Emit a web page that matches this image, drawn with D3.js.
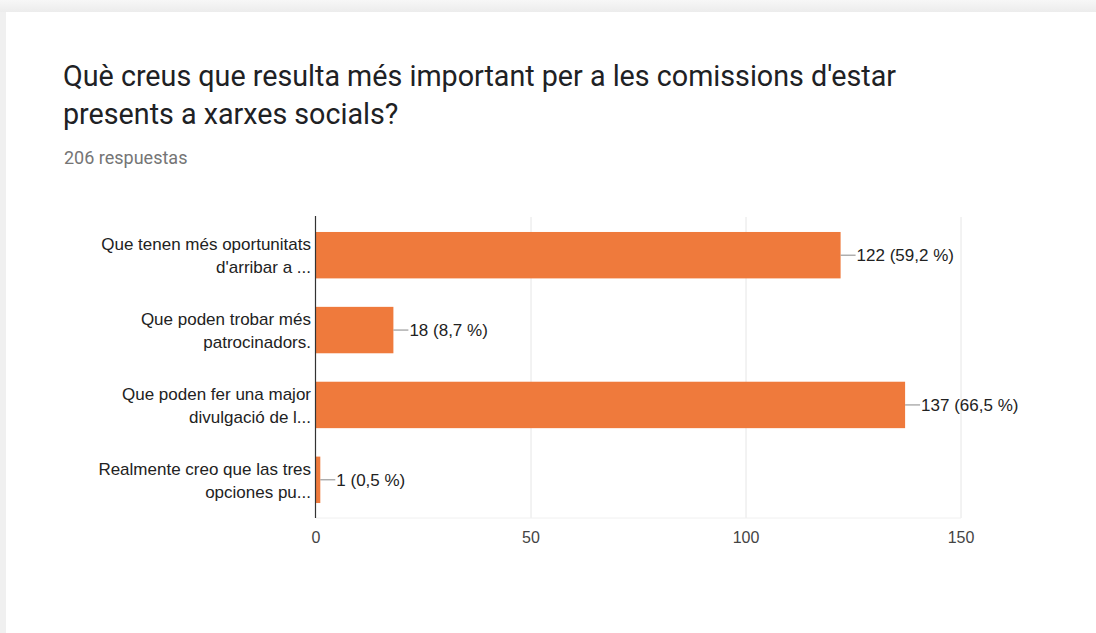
<!DOCTYPE html>
<html>
<head>
<meta charset="utf-8">
<script src="https://cdn.jsdelivr.net/npm/d3@7"></script>
<style>
  html, body { margin: 0; padding: 0; background: #f1f1f1; }
  svg { display: block; }
</style>
</head>
<body>
<svg id="chart" width="1096" height="633"></svg>
<script>
// Answer options (each drawn as two lines) and response counts
const categoryLines = [
  ["Que tenen més oportunitats", "d'arribar a ..."],
  ["Que poden trobar més", "patrocinadors."],
  ["Que poden fer una major", "divulgació de l..."],
  ["Realmente creo que las tres", "opciones pu..."]
];
const counts = [122, 18, 137, 1];
const percents = ["59,2", "8,7", "66,5", "0,5"];
const xTicks = [0, 50, 100, 150];
const totalResponses = 206;

const svg = d3.select("#chart");
const W = 1096, H = 633;

// top shadow band and card
const defs = svg.append("defs");
const grad = defs.append("linearGradient").attr("id", "topShade").attr("x1", 0).attr("x2", 0).attr("y1", 0).attr("y2", 1);
grad.append("stop").attr("offset", "0%").attr("stop-color", "#f7f7f7");
grad.append("stop").attr("offset", "100%").attr("stop-color", "#ececec");
svg.append("rect").attr("x", 0).attr("y", 0).attr("width", W).attr("height", 12).attr("fill", "url(#topShade)");
svg.append("rect").attr("x", 0).attr("y", 12).attr("width", 6).attr("height", H - 12).attr("fill", "#f0f0f0");
svg.append("rect").attr("x", 6).attr("y", 12).attr("width", W - 6).attr("height", H - 12).attr("fill", "#ffffff");

// Title and response count
const title = svg.append("text")
  .attr("font-family", "Roboto, Arial, sans-serif")
  .attr("font-size", 28.7)
  .attr("fill", "#202124");
title.append("tspan").attr("x", 63).attr("y", 86).text("Què creus que resulta més important per a les comissions d'estar");
title.append("tspan").attr("x", 63).attr("y", 124).text("presents a xarxes socials?");

svg.append("text")
  .attr("x", 64).attr("y", 164)
  .attr("font-family", "Roboto, Arial, sans-serif")
  .attr("font-size", 18)
  .attr("fill", "#757575")
  .text(totalResponses + " respuestas");

// Plot area
const plot = { left: 316, right: 961, top: 217, bottom: 518 };
const x = d3.scaleLinear().domain([0, 150]).range([plot.left, plot.right]);
const y = d3.scaleBand().domain(d3.range(counts.length)).range([plot.top, plot.bottom]).paddingInner(0.38).paddingOuter(0.2);

const g = svg.append("g");
const font = "Arial, 'Liberation Sans', sans-serif";

// vertical gridlines
g.selectAll("line.grid").data(xTicks.slice(1)).join("line")
  .attr("class", "grid")
  .attr("x1", d => x(d)).attr("x2", d => x(d))
  .attr("y1", plot.top).attr("y2", plot.bottom)
  .attr("stroke", "#e6e6e6").attr("stroke-width", 1);
g.append("line")
  .attr("x1", plot.left).attr("x2", plot.right)
  .attr("y1", plot.bottom).attr("y2", plot.bottom)
  .attr("stroke", "#f0f0f0");

// bars
g.selectAll("rect.bar").data(counts).join("rect")
  .attr("class", "bar")
  .attr("x", x(0))
  .attr("y", (d, i) => y(i))
  .attr("width", d => x(d) - x(0))
  .attr("height", y.bandwidth())
  .attr("fill", "#ef7a3c");

// value connectors and labels
g.selectAll("line.conn").data(counts).join("line")
  .attr("class", "conn")
  .attr("x1", d => x(d)).attr("x2", d => x(d) + 15)
  .attr("y1", (d, i) => y(i) + y.bandwidth() / 2)
  .attr("y2", (d, i) => y(i) + y.bandwidth() / 2)
  .attr("stroke", "#888").attr("stroke-width", 1);
g.selectAll("text.val").data(counts).join("text")
  .attr("class", "val")
  .attr("x", d => x(d) + 16)
  .attr("y", (d, i) => y(i) + y.bandwidth() / 2 + 6)
  .attr("font-family", font).attr("font-size", 17).attr("fill", "#222")
  .text((d, i) => d + " (" + percents[i] + " %)");

// y axis line
g.append("line")
  .attr("x1", plot.left - 0.5).attr("x2", plot.left - 0.5)
  .attr("y1", plot.top - 1).attr("y2", plot.bottom)
  .attr("stroke", "#333").attr("stroke-width", 1.2);

// category labels
g.selectAll("text.cat").data(categoryLines).join("text")
  .attr("class", "cat")
  .attr("text-anchor", "end")
  .attr("font-family", font).attr("font-size", 17).attr("fill", "#222")
  .each(function(lines, i) {
    const c = y(i) + y.bandwidth() / 2;
    d3.select(this).selectAll("tspan").data(lines).join("tspan")
      .attr("x", 311)
      .attr("y", (l, j) => c - 5 + j * 23)
      .text(l => l);
  });

// x tick labels
g.selectAll("text.tick").data(xTicks).join("text")
  .attr("class", "tick")
  .attr("x", d => x(d))
  .attr("y", 543)
  .attr("text-anchor", "middle")
  .attr("font-family", font).attr("font-size", 16).attr("fill", "#444")
  .text(d => d);
</script>
</body>
</html>
